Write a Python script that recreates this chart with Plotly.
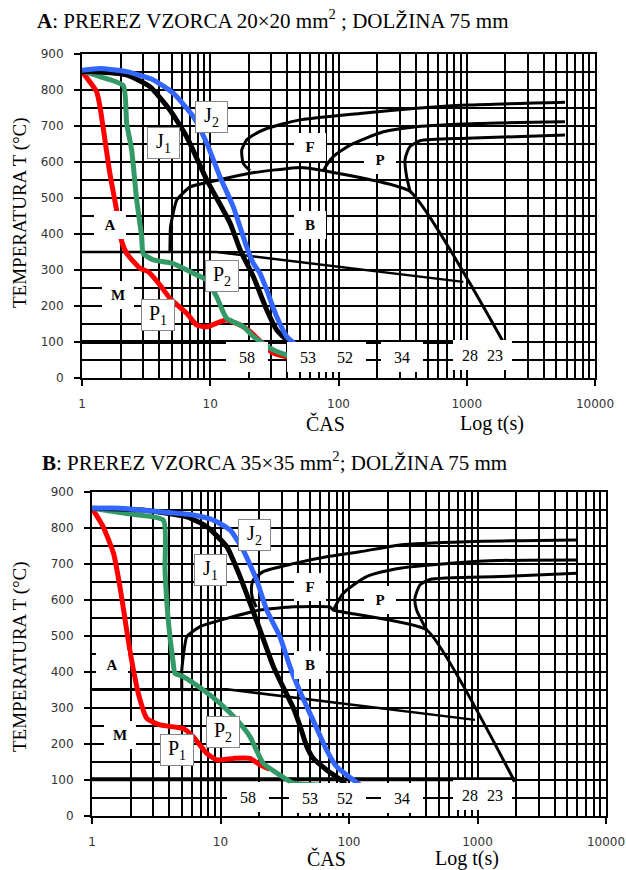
import plotly.graph_objects as go
import math

# ---------------- DATA: chart A (20x20 mm) ----------------
a_red_x = [1, 1.3, 1.38, 1.65, 1.86, 2.04, 2.23, 2.83, 3.29, 4.06, 4.86, 6.55, 7.84, 9.38, 11.9, 13.4, 17.1, 20.4, 31, 44]
a_red_y = [851, 795, 754, 568, 467, 379, 346, 305, 295, 258, 221, 180, 147, 142, 156, 161, 147, 129, 69, 55]
a_green_x = [1, 1.38, 2.1, 2.23, 2.44, 2.67, 2.92, 3.0, 3.6, 5.15, 7.38, 9.4, 11.2, 13.4, 18.1, 21.7, 31, 47]
a_green_y = [853, 837, 812, 707, 633, 494, 392, 346, 328, 318, 291, 272, 226, 166, 143, 115, 78, 55]
a_j1_x = [1, 1.22, 2.23, 3.39, 4.86, 6.55, 9.4, 14.3, 17.1, 21.7, 27.6, 33, 39.5, 44.4, 50]
a_j1_y = [851, 851, 842, 809, 744, 670, 550, 430, 356, 281, 189, 133, 106, 96, 92]
a_j2_x = [1, 1.38, 2.23, 3.6, 5.15, 7.38, 9.4, 11.9, 15.1, 19.2, 21.7, 24.4, 27.6, 33, 39.5, 47.2, 56]
a_j2_y = [855, 860, 851, 828, 791, 726, 652, 559, 476, 365, 318, 291, 244, 170, 115, 92, 89]

a_ferrite_x = [20.4, 18.1, 17.6, 19.2, 21.7, 27.6, 50, 147, 407, 1000, 5840]
a_ferrite_y = [576, 596, 633, 661, 675, 693, 717, 735, 749, 758, 766]
a_bainite_x = [4.85, 4.9, 5.47, 6.95, 9.96, 20.4, 50, 76, 362, 1928]
a_bainite_y = [350, 420, 494, 531, 545, 569, 585, 576, 518, 100]
a_pstart_x = [76, 82, 91, 123, 224, 406, 1195, 5840]
a_pstart_y = [576, 595, 615, 647, 684, 698, 707, 712]
a_pfinish_x = [362, 340, 330, 345, 361, 432, 1000, 5840]
a_pfinish_y = [518, 559, 606, 630, 643, 659, 666, 675]
a_ms_x = [1, 11.2, 940]
a_ms_y = [350, 350, 267]
a_mf_x = [1, 1928]
a_mf_y = [100, 100]

# ---------------- DATA: chart B (35x35 mm) ----------------
b_red_x = [1, 1.22, 1.47, 1.65, 1.86, 1.98, 2.1, 2.29, 2.67, 3.38, 5.14, 6.14, 7.81, 9.34, 12.6, 17, 20.3, 24]
b_red_y = [855, 804, 730, 637, 517, 456, 406, 341, 271, 253, 243, 220, 174, 156, 160, 160, 142, 130]
b_green_x = [1, 1.86, 3.59, 3.7, 3.92, 4.29, 4.42, 5.14, 7.35, 9.91, 13.4, 17, 21.5, 29, 36.9, 59.5]
b_green_y = [855, 840, 822, 683, 544, 424, 396, 387, 350, 313, 267, 220, 146, 114, 91, 86]
b_j1_x = [1, 2.5, 5.46, 7.8, 11.2, 14.2, 17, 20.3, 25.8, 31, 36.9, 41.6, 46.9, 52.7, 67, 90, 95]
b_j1_y = [855, 850, 831, 804, 748, 665, 591, 517, 415, 355, 300, 250, 193, 160, 128, 95, 85]
b_j2_x = [1, 1.65, 3.38, 6.14, 8.8, 11.9, 15, 19.1, 22.9, 29, 34.7, 41.6, 52.7, 67, 80, 100, 122]
b_j2_y = [855, 855, 845, 836, 822, 794, 739, 656, 572, 498, 415, 345, 265, 183, 137, 109, 86]

b_ferrite_x = [19, 17.6, 17.5, 18, 21.5, 36.9, 67, 122, 249, 824, 5915]
b_ferrite_y = [580, 610, 642, 656, 679, 701, 720, 734, 753, 762, 767]
b_bainite_x = [5.0, 5.0, 5.46, 6.92, 11.2, 20.3, 36.9, 71, 75.5, 402, 1950]
b_bainite_y = [350, 406, 498, 526, 549, 572, 581, 581, 572, 517, 95]
b_pstart_x = [75.5, 90, 137, 249, 427, 1250, 5915]
b_pstart_y = [572, 618, 665, 688, 697, 709, 711]
b_pfinish_x = [402, 336, 326, 357, 427, 1497, 5915]
b_pfinish_y = [517, 572, 605, 642, 657, 665, 674]
b_ms_x = [1, 11.2, 956]
b_ms_y = [352, 352, 267]
b_mf_x = [1, 1950]
b_mf_y = [102, 102]

x_tick_vals = [1, 10, 100, 1000, 10000]
x_tick_text = ["1", "10", "100", "1000", "10000"]
x_minor_vals = [d * 10 ** k for k in range(4) for d in range(2, 10)]
y_tick_vals = [0, 100, 200, 300, 400, 500, 600, 700, 800, 900]

W, H = 626, 870
RED = "#ff0000"
GREEN = "#339966"
BLUE = "#3366ff"
BLACK = "#000000"

fig = go.Figure()


def add_line(x, y, axis, color, width, shape="spline", smoothing=0.6):
    fig.add_trace(go.Scatter(
        x=x, y=y, xaxis=axis[0], yaxis=axis[1], mode="lines",
        line=dict(color=color, width=width, shape=shape, smoothing=smoothing),
        hoverinfo="skip", showlegend=False))


for ax, d in ((("x", "y"), dict(fer=(a_ferrite_x, a_ferrite_y), bai=(a_bainite_x, a_bainite_y),
                                ps=(a_pstart_x, a_pstart_y), pf=(a_pfinish_x, a_pfinish_y),
                                ms=(a_ms_x, a_ms_y), mf=(a_mf_x, a_mf_y),
                                red=(a_red_x, a_red_y), green=(a_green_x, a_green_y),
                                j1=(a_j1_x, a_j1_y), j2=(a_j2_x, a_j2_y))),
              (("x2", "y2"), dict(fer=(b_ferrite_x, b_ferrite_y), bai=(b_bainite_x, b_bainite_y),
                                  ps=(b_pstart_x, b_pstart_y), pf=(b_pfinish_x, b_pfinish_y),
                                  ms=(b_ms_x, b_ms_y), mf=(b_mf_x, b_mf_y),
                                  red=(b_red_x, b_red_y), green=(b_green_x, b_green_y),
                                  j1=(b_j1_x, b_j1_y), j2=(b_j2_x, b_j2_y)))):
    add_line(*d["fer"], ax, BLACK, 3)
    add_line(*d["ps"], ax, BLACK, 3)
    add_line(*d["pf"], ax, BLACK, 3)
    add_line(*d["bai"], ax, BLACK, 3, smoothing=0.4)
    add_line(*d["ms"], ax, BLACK, 2.5, shape="linear")
    add_line(*d["mf"], ax, BLACK, 4, shape="linear")
    add_line(*d["red"], ax, RED, 5, smoothing=0.5)
    add_line(*d["green"], ax, GREEN, 5, smoothing=0.5)
    add_line(*d["j1"], ax, BLACK, 5, smoothing=0.5)
    add_line(*d["j2"], ax, BLUE, 5, smoothing=0.5)

tickfont = dict(family="DejaVu Sans, Arial", size=12, color="#333333")


def xaxis_cfg(domain, anchor):
    return dict(type="log", range=[0, 4], domain=domain, anchor=anchor, automargin=False,
                tickvals=x_tick_vals, ticktext=x_tick_text, ticks="outside", ticklen=6,
                tickwidth=2, tickcolor="black", tickfont=tickfont, ticklabelstandoff=8,
                showgrid=True, gridcolor="black", gridwidth=2,
                showline=True, linecolor="black", linewidth=2, mirror=True,
                minor=dict(tickvals=x_minor_vals, showgrid=True, gridcolor="black",
                           gridwidth=2, ticks=""),
                zeroline=False, fixedrange=True)


def yaxis_cfg(domain, anchor):
    return dict(range=[0, 900], domain=domain, anchor=anchor, automargin=False,
                tickvals=y_tick_vals, ticks="outside", ticklen=6, tickwidth=2,
                tickcolor="black", tickfont=tickfont, ticklabelstandoff=8,
                showgrid=True, gridcolor="black", gridwidth=2,
                showline=True, linecolor="black", linewidth=2, mirror=True,
                minor=dict(dtick=50, showgrid=True, gridcolor="black", gridwidth=2, ticks=""),
                zeroline=False, fixedrange=True)


fig.update_layout(
    width=W, height=H, autosize=False, margin=dict(l=0, r=0, t=0, b=0, pad=0, autoexpand=False),
    paper_bgcolor="white", plot_bgcolor="white", showlegend=False,
    xaxis=xaxis_cfg([82 / W, 595 / W], "y"),
    yaxis=yaxis_cfg([1 - 378 / H, 1 - 54 / H], "x"),
    xaxis2=xaxis_cfg([92 / W, 606 / W], "y2"),
    yaxis2=yaxis_cfg([1 - 816 / H, 1 - 492 / H], "x2"),
)

SERIF = "Liberation Serif, Times New Roman, serif"
anns = []


def box(text, x, y, axis, size=15, bold=False, border=False, w=None, h=None):
    anns.append(dict(
        text=("<b>%s</b>" % text) if bold else text,
        x=math.log10(x), y=y, xref=axis[0], yref=axis[1], showarrow=False,
        font=dict(family=SERIF, size=size, color="black"),
        bgcolor="white", bordercolor="#888888" if border else "white",
        borderwidth=1 if border else 0, borderpad=2,
        width=w, height=h, xanchor="center", yanchor="middle"))


for axis, lab in ((("x", "y"), dict(A=(1.65, 425), M=(1.92, 230), B=(60, 425), F=(60, 643), P=(211, 606),
                                    J1=(4.3, 652), J2=(10.3, 726), P1=(3.94, 175), P2=(12.3, 282),
                                    n58=(19.5, 59), n53=(58, 59), n52=(112, 59), n34=(311, 59),
                                    n28=(1060, 64), n23=(1660, 64))),
                  (("x2", "y2"), dict(A=(1.42, 419), M=(1.65, 225), B=(49.7, 419), F=(49.7, 637), P=(174, 600),
                                      J1=(8.3, 683), J2=(18.5, 780), P1=(4.56, 183), P2=(10.5, 234),
                                      n58=(16.5, 54), n53=(49.7, 49), n52=(93, 49), n34=(257, 49),
                                      n28=(874, 58), n23=(1368, 58)))):
    for k in ("A", "M", "B", "F", "P"):
        box(k, *lab[k], axis, size=15, bold=True, w=28, h=24)
    box("J<sub>1</sub>", *lab["J1"], axis, size=20, border=True, w=27, h=26)
    box("J<sub>2</sub>", *lab["J2"], axis, size=20, border=True, w=27, h=26)
    box("P<sub>1</sub>", *lab["P1"], axis, size=20, border=True, w=28, h=26)
    box("P<sub>2</sub>", *lab["P2"], axis, size=20, border=True, w=28, h=26)
    for k in ("n58", "n53", "n52", "n34"):
        box(k[1:], *lab[k], axis, size=16, w=38, h=26)
    box("28", *lab["n28"], axis, size=16, w=30, h=26)
    box("23", *lab["n23"], axis, size=16, w=30, h=26)


def ptext(text, px, py, size, anchor="left", angle=0):
    anns.append(dict(text=text, x=px / W, y=1 - py / H, xref="paper", yref="paper",
                     showarrow=False, xanchor=anchor, yanchor="middle", textangle=angle,
                     font=dict(family=SERIF, size=size, color="black")))


ptext("<b>A</b>: PREREZ VZORCA 20×20 mm<sup>2</sup> ; DOLŽINA 75 mm", 35, 20, 21)
ptext("<b>B</b>: PREREZ VZORCA 35×35 mm<sup>2</sup>; DOLŽINA 75 mm", 40, 461, 21)
ptext("TEMPERATURA T (°C)", 20, 213, 19, anchor="center", angle=-90)
ptext("TEMPERATURA T (°C)", 20, 657, 19, anchor="center", angle=-90)
ptext("ČAS", 325, 423, 20, anchor="center")
ptext("Log t(s)", 492, 423, 20, anchor="center")
ptext("ČAS", 326, 858, 20, anchor="center")
ptext("Log t(s)", 467, 858, 20, anchor="center")

fig.update_layout(annotations=anns)
fig.write_html(
    "out.html",
    config={"displayModeBar": False},
    post_script="document.documentElement.style.margin='0';document.body.style.margin='0';"
                "document.body.style.padding='0';document.documentElement.style.overflow='hidden';"
                "document.body.style.overflow='hidden';")
